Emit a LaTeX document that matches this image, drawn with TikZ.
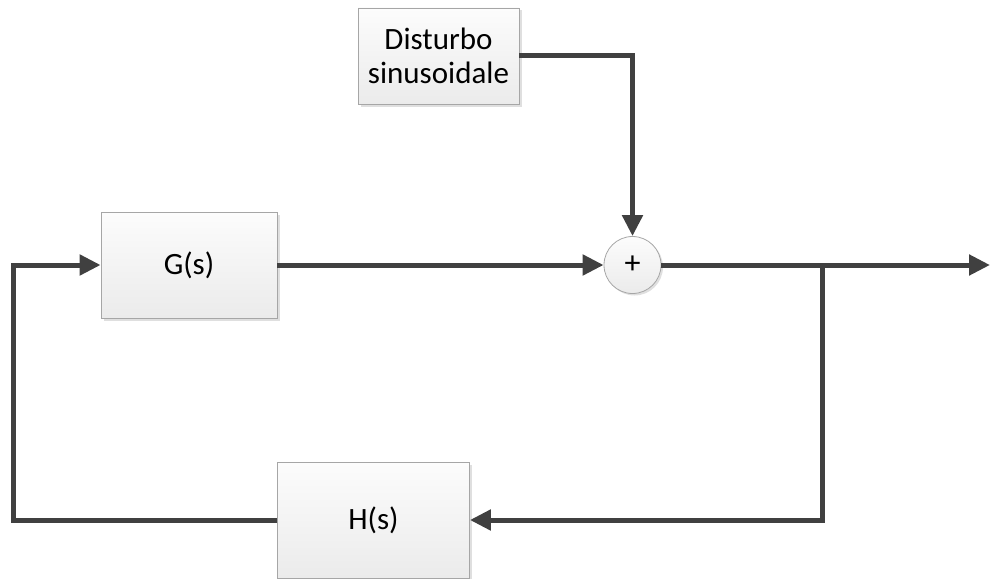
\documentclass[tikz,border=0pt]{standalone}
\usepackage{fontspec}
\setmainfont{Carlito}
\usetikzlibrary{arrows.meta,shadows}
\definecolor{wire}{HTML}{404040}
\definecolor{boxline}{HTML}{A6A6A6}
\definecolor{boxtop}{HTML}{FCFCFC}
\definecolor{boxbot}{HTML}{EBEBEB}
\tikzset{
  block/.style={draw=boxline, line width=0.8pt, top color=boxtop, bottom color=boxbot,
    drop shadow={shadow xshift=2.5pt, shadow yshift=-2.5pt, opacity=0.25, fill=gray},
    font=\fontsize{31}{34}\selectfont, align=center, inner sep=0pt},
  sumnode/.style={circle, draw=boxline, line width=0.8pt, top color=boxtop, bottom color=boxbot,
    drop shadow={shadow xshift=2pt, shadow yshift=-2pt, opacity=0.25, fill=gray},
    minimum size=57pt, inner sep=0pt, font=\fontsize{32}{34}\selectfont},
  wireline/.style={draw=wire, line width=5pt, line join=miter},
  flow/.style={wireline, -{Triangle[length=21pt,width=20pt]}}
}
\begin{document}
\begin{tikzpicture}[x=1pt, y=-1pt]
  \useasboundingbox (0,0) rectangle (990,578);

  % blocks
  \node[block, minimum width=161pt, minimum height=96pt] (D) at (438.5,56) {Disturbo\\sinusoidale};
  \node[block, minimum width=176pt, minimum height=106pt] (G) at (189,265) {G(s)};
  \node[block, minimum width=192pt, minimum height=116pt] (H) at (373.5,520) {H(s)};
  \node[sumnode] (S) at (632.5,265) {+};

  % auxiliary points
  \coordinate (out) at (990,265);
  \coordinate (br) at (822,265);
  \coordinate (lft) at (13,265);

  % connectors
  \draw[flow] (G.east) -- (S.west);
  \draw[flow] (D.east) -| (S.north);
  \draw[flow] (S.east) -- (out);
  \draw[flow] (br) |- (H.east);
  \draw[flow] (H.west) -| (lft) -- (G.west);
\end{tikzpicture}
\end{document}
